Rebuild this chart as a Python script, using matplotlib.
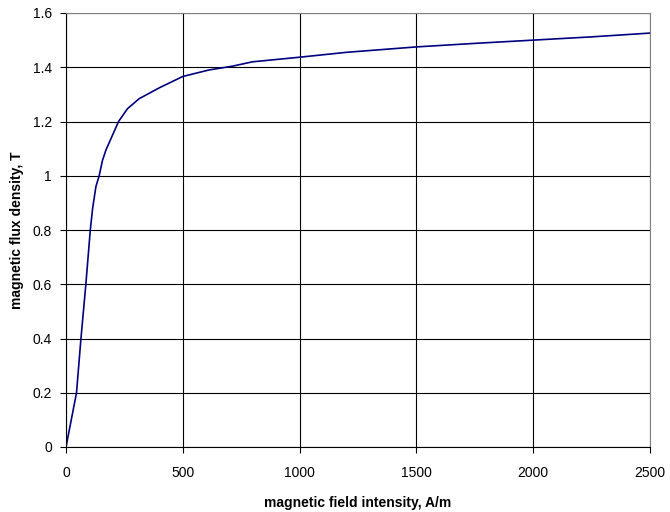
import matplotlib
matplotlib.use("Agg")
import matplotlib.pyplot as plt
from matplotlib.ticker import FuncFormatter

H = [0, 45, 64, 85, 104, 114, 128, 142, 156, 171, 225, 263, 313, 399, 500, 612, 713,
     798, 1000, 1200, 1500, 1750, 2000, 2250, 2500]
B = [0, 0.2, 0.4, 0.6, 0.8, 0.88, 0.96, 1.0, 1.056, 1.095, 1.2, 1.247, 1.284, 1.324,
     1.366, 1.39, 1.404, 1.42, 1.437, 1.455, 1.475, 1.488, 1.5, 1.512, 1.526]
xticks = [0, 500, 1000, 1500, 2000, 2500]
yticks = [0, 0.2, 0.4, 0.6, 0.8, 1.0, 1.2, 1.4, 1.6]

plt.rcParams['font.family'] = ['Liberation Sans', 'DejaVu Sans']

fig = plt.figure(figsize=(6.7, 5.12), dpi=100)
ax = fig.add_axes([66/670, 65/512, 584/670, 434/512])
ax.plot(H, B, color='#000080', lw=1.2)
ax.set_xlim(0, 2500)
ax.set_ylim(0, 1.6)
ax.set_xticks(xticks)
ax.set_yticks(yticks)
ax.yaxis.set_major_formatter(FuncFormatter(lambda v, p: f"{v:g}"))
ax.grid(True, color='#000000', lw=0.8)
ax.set_axisbelow(True)
for s in ['top', 'right']:
    ax.spines[s].set_color('#808080')
for s in ['left', 'bottom']:
    ax.spines[s].set_color('#000000')
ax.tick_params(direction='out', length=4, width=0.8, labelsize=10)
ax.tick_params(axis='x', pad=10)
ax.tick_params(axis='y', pad=6)
ax.set_xlabel('magnetic field intensity, A/m', fontsize=10, fontweight='bold', labelpad=11)
ax.set_ylabel('magnetic flux density, T', fontsize=10, fontweight='bold', labelpad=6)
fig.savefig('out.png', dpi=100)
